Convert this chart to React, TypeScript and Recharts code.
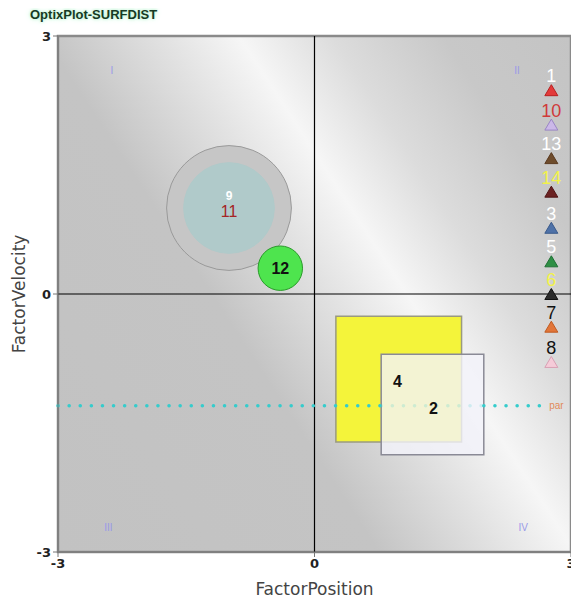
import React from "react";
import {
  ReferenceArea,
  ReferenceDot,
  ReferenceLine,
  Scatter,
  ScatterChart,
  XAxis,
  YAxis,
} from "recharts";

// axis
const axisTicks = [-3, 0, 3];

// triangle markers on the right edge
const markerNames = ["1", "10", "13", "14", "3", "5", "6", "7", "8"];
const markerX = 2.77;
const markerY = [2.37, 1.97, 1.58, 1.19, 0.77, 0.38, 0, -0.38, -0.79];

// circles (center + radius in data units)
const circleNames = ["9", "11", "12"];
const circleX = [-1.0, -1.0, -0.4];
const circleY = [1.0, 1.0, 0.3];
const circleR = [0.73, 0.53, 0.26];

// squares
const squareNames = ["4", "2"];
const squareX1 = [0.25, 0.78];
const squareX2 = [1.72, 1.98];
const squareY1 = [-1.72, -1.87];
const squareY2 = [-0.26, -0.7];

// text labels
const labelNames = ["9", "11", "12", "4", "2", "I", "II", "III", "IV", "par"];
const labelX = [-1.0, -1.0, -0.4, 0.97, 1.39, -2.37, 2.37, -2.41, 2.44, 2.83];
const labelY = [1.14, 0.96, 0.3, -1.02, -1.33, 2.6, 2.6, -2.72, -2.72, -1.3];

// reference level
const parLevel = -1.3;
const parEnd = 2.71;

const markerStyle: Record<string, { fill: string; stroke: string; text: string }> = {
  "1": { fill: "#e33a3a", stroke: "#b82020", text: "#ffffff" },
  "10": { fill: "#cbb8e8", stroke: "#9a86c4", text: "#d03a3a" },
  "13": { fill: "#6e4c2c", stroke: "#5a3a20", text: "#ffffff" },
  "14": { fill: "#6b2222", stroke: "#501414", text: "#f2f24a" },
  "3": { fill: "#4f72a8", stroke: "#3a5a8a", text: "#ffffff" },
  "5": { fill: "#2f8f45", stroke: "#207035", text: "#ffffff" },
  "6": { fill: "#2b2b2b", stroke: "#111111", text: "#f2f24a" },
  "7": { fill: "#e2763a", stroke: "#c05a20", text: "#111111" },
  "8": { fill: "#f5cbd8", stroke: "#d8a0b4", text: "#111111" },
};

const circleStyle: Record<string, { fill: string; stroke: string }> = {
  "9": { fill: "#c6c6c6", stroke: "#9a9a9a" },
  "11": { fill: "#b0caca", stroke: "#b0caca" },
  "12": { fill: "#4ee44e", stroke: "#2a9a2a" },
};

const squareStyle: Record<string, { fill: string; stroke: string; op: number }> = {
  "4": { fill: "#f4f43a", stroke: "#9a9a80", op: 1 },
  "2": { fill: "#f2f2fa", stroke: "#8a8a96", op: 0.8 },
};

const labelStyle: Record<string, { color: string; size: number; weight: string }> = {
  "9": { color: "#ffffff", size: 12, weight: "bold" },
  "11": { color: "#a52424", size: 16, weight: "normal" },
  "12": { color: "#111111", size: 16, weight: "bold" },
  "4": { color: "#111111", size: 16, weight: "bold" },
  "2": { color: "#111111", size: 16, weight: "bold" },
  I: { color: "#9a9ae8", size: 10, weight: "normal" },
  II: { color: "#9a9ae8", size: 10, weight: "normal" },
  III: { color: "#9a9ae8", size: 10, weight: "normal" },
  IV: { color: "#9a9ae8", size: 10, weight: "normal" },
  par: { color: "#e08a5a", size: 10, weight: "normal" },
};

const PX_PER_UNIT = 513 / 6;

const markerData = markerNames.map((name, i) => ({ name, x: markerX, y: markerY[i] }));
const labelData = labelNames.map((name, i) => ({ name, x: labelX[i], y: labelY[i] }));

const TriangleMark = (p: any) => {
  const { cx, cy, payload } = p;
  const s = markerStyle[payload.name];
  return (
    <g>
      <path
        d={`M${cx},${cy - 5.5} L${cx + 6.5},${cy + 5.5} L${cx - 6.5},${cy + 5.5} Z`}
        fill={s.fill}
        stroke={s.stroke}
      />
      <text
        x={cx}
        y={cy - 8}
        textAnchor="middle"
        fontSize={18}
        fontFamily="Liberation Sans"
        fill={s.text}
      >
        {payload.name}
      </text>
    </g>
  );
};

const TextMark = (p: any) => {
  const { cx, cy, payload } = p;
  const s = labelStyle[payload.name];
  return (
    <text
      x={cx}
      y={cy}
      dy="0.35em"
      textAnchor="middle"
      fontSize={s.size}
      fontWeight={s.weight}
      fontFamily="Liberation Sans"
      fill={s.color}
    >
      {payload.name}
    </text>
  );
};

const tickStyle = { fontSize: 13, fill: "#222", fontFamily: "DejaVu Sans", fontWeight: "bold" };
const axisLabelStyle = { fontSize: 17, fill: "#444", fontFamily: "DejaVu Sans" };

export default function App() {
  return (
    <div style={{ position: "relative", width: 571, height: 595 }}>
      <div
        style={{
          position: "absolute",
          left: 22,
          top: 0,
          fontFamily: "Liberation Sans",
          fontWeight: "bold",
          fontSize: 13,
          lineHeight: "13px",
          color: "#173a24",
          textShadow: "0 0 3px #aef0c8, 0 0 6px #c8f5da",
        }}
      >
        OptixPlot-SURFDIST
      </div>
      <ScatterChart
        width={571}
        height={595}
        margin={{ top: 28, right: 8, bottom: 0, left: 0 }}
      >
        <defs>
          <linearGradient id="bg" x1="-0.03" y1="0.96" x2="1.13" y2="0.2">
            <stop offset="0" stopColor="#c2c2c2" />
            <stop offset="0.38" stopColor="#c4c4c4" />
            <stop offset="0.52" stopColor="#e2e2e2" />
            <stop offset="0.61" stopColor="#f6f6f6" />
            <stop offset="0.72" stopColor="#dcdcdc" />
            <stop offset="0.85" stopColor="#c8c8c8" />
            <stop offset="1" stopColor="#c4c4c4" />
          </linearGradient>
        </defs>
        <XAxis
          type="number"
          dataKey="x"
          domain={[-3, 3]}
          ticks={axisTicks}
          height={51}
          tick={tickStyle}
          tickSize={5}
          stroke="#777"
          label={{
            value: "FactorPosition",
            position: "insideBottom",
            offset: 8,
            style: axisLabelStyle,
          }}
        />
        <YAxis
          type="number"
          dataKey="y"
          domain={[-3, 3]}
          ticks={axisTicks}
          width={50}
          tick={tickStyle}
          tickSize={5}
          stroke="#777"
          label={{
            value: "FactorVelocity",
            angle: -90,
            position: "insideLeft",
            offset: 11,
            style: { ...axisLabelStyle, textAnchor: "middle" },
          }}
        />
        <ReferenceArea
          x1={-3}
          x2={3}
          y1={-3}
          y2={3}
          fill="url(#bg)"
          fillOpacity={1}
          stroke="#8a8a8a"
          strokeWidth={2.5}
        />
        <ReferenceLine x={0} stroke="#000" strokeWidth={1.2} />
        <ReferenceLine y={0} stroke="#000" strokeWidth={1.2} />
        {squareNames.map((n, i) => (
          <ReferenceArea
            key={n}
            x1={squareX1[i]}
            x2={squareX2[i]}
            y1={squareY1[i]}
            y2={squareY2[i]}
            fill={squareStyle[n].fill}
            fillOpacity={squareStyle[n].op}
            stroke={squareStyle[n].stroke}
            strokeWidth={1.5}
          />
        ))}
        {/* dotted level: visible over the yellow box, faint under the pale one */}
        <ReferenceLine
          segment={[
            { x: -3, y: parLevel },
            { x: squareX1[1], y: parLevel },
          ]}
          stroke="#35cccc"
          strokeWidth={3.5}
          strokeDasharray="0.1 11"
          strokeLinecap="round"
        />
        <ReferenceLine
          segment={[
            { x: squareX1[1], y: parLevel },
            { x: squareX2[1], y: parLevel },
          ]}
          stroke="#35cccc"
          strokeOpacity={0.2}
          strokeWidth={3.5}
          strokeDasharray="0.1 11"
          strokeLinecap="round"
        />
        <ReferenceLine
          segment={[
            { x: squareX2[1], y: parLevel },
            { x: parEnd, y: parLevel },
          ]}
          stroke="#35cccc"
          strokeWidth={3.5}
          strokeDasharray="0.1 11"
          strokeLinecap="round"
        />
        {circleNames.map((n, i) => (
          <ReferenceDot
            key={n}
            x={circleX[i]}
            y={circleY[i]}
            r={circleR[i] * PX_PER_UNIT}
            fill={circleStyle[n].fill}
            stroke={circleStyle[n].stroke}
            strokeWidth={1}
          />
        ))}
        <Scatter data={labelData} shape={TextMark} isAnimationActive={false} />
        <Scatter data={markerData} shape={TriangleMark} isAnimationActive={false} />
      </ScatterChart>
    </div>
  );
}
